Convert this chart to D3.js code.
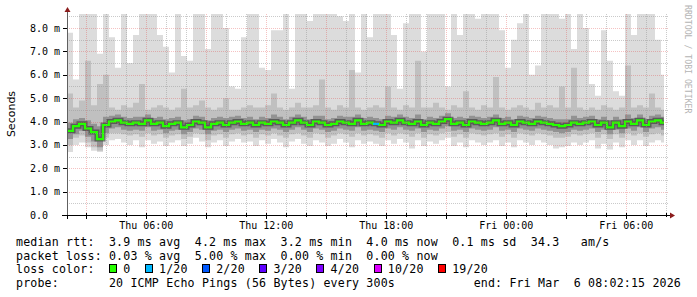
<!DOCTYPE html>
<html>
<head>
<meta charset="utf-8">
<script src="https://cdn.jsdelivr.net/npm/d3@7"></script>
<style>
  body { margin: 0; background: #fff; }
  text { font-family: "DejaVu Sans Mono", monospace; }
</style>
</head>
<body>
<div id="chart"></div>
<script>
// median rtt per 18 minute slot (ms)
var med = [3.6,3.8,3.9,3.7,3.55,3.25,3.85,4.0,4.05,3.95,
  3.9,3.95,3.9,4.05,3.9,3.95,3.8,3.9,3.95,3.75,
  3.85,4.0,3.95,3.75,3.9,3.95,3.85,3.95,4.0,3.9,
  3.95,3.85,3.95,3.9,4.0,3.95,3.85,3.95,4.05,3.95,
  3.85,4.0,3.95,3.85,3.9,4.0,3.95,3.9,4.05,3.9,
  3.95,3.9,3.85,4.0,3.95,4.05,3.95,3.9,4.0,3.85,
  3.95,3.9,4.0,4.1,3.9,3.95,3.85,4.0,3.95,3.9,
  3.95,4.05,3.9,3.95,3.85,4.0,3.95,3.9,4.0,3.95,
  3.9,3.85,3.8,3.85,3.95,3.9,3.95,4.0,3.85,3.95,
  3.75,3.95,3.8,4.0,3.9,4.05,3.85,4.0,4.05,3.95];
// slowest ping
var pmax = [7.8,5.8,9,9,9,6.9,9,7.6,6.3,9,
  6.5,7.7,9,9,9,7.7,7.2,6.1,9,6.8,
  6.6,9,9,7.1,9,9,8.0,5.5,5.4,7.6,
  9,9,6.3,6.2,7.9,7.9,9,5.4,9,9,
  8.3,9,9,9,9,8.5,8.3,9,6.1,9,
  7.6,9,9,9,7.7,5.4,8.2,9,9,7.0,
  9,9,9,5.5,9,7.7,9,9,8.4,9,
  9,9,7.9,6.3,7.5,8.2,9,6.0,6.4,9,
  9,9,8.4,9,7.1,9,8.0,5.6,5.1,7.9,
  6.6,5.3,5.1,9,7.7,9,9,9,7.5,6.0];
// upper decile
var phi = [5.2,4.6,4.9,6.6,4.7,5.6,6.0,4.6,4.5,4.7,
  4.6,4.8,5.6,4.5,4.6,4.7,4.6,4.5,4.6,5.4,
  4.6,4.7,4.9,4.6,4.5,4.6,5.0,4.5,4.5,4.6,
  4.7,4.6,4.6,4.7,5.2,4.6,4.5,4.6,4.8,4.6,
  4.6,4.7,5.8,4.6,4.5,4.7,4.6,6.2,4.6,4.5,
  4.6,4.7,4.6,5.5,4.6,4.5,4.7,4.6,6.6,4.6,
  4.6,4.8,4.6,4.5,4.7,4.6,5.3,4.6,4.5,4.7,
  4.6,5.9,4.6,4.5,4.6,4.7,4.6,4.5,4.8,4.6,
  4.7,4.6,5.5,4.6,6.3,4.6,4.5,4.6,4.5,4.7,
  4.6,4.5,4.6,6.4,4.6,4.7,4.6,5.2,4.6,4.5];
// upper quartile
var pq3 = [3.95,4.1,4.15,4.05,3.9,3.8,4.2,4.25,4.3,4.2,
  4.15,4.2,4.2,4.3,4.15,4.2,4.1,4.15,4.2,4.05,
  4.1,4.25,4.2,4.05,4.15,4.2,4.15,4.2,4.25,4.15,
  4.2,4.1,4.2,4.15,4.3,4.2,4.1,4.2,4.3,4.2,
  4.1,4.25,4.25,4.1,4.15,4.25,4.2,4.2,4.3,4.15,
  4.2,4.15,4.1,4.25,4.2,4.3,4.2,4.15,4.3,4.1,
  4.2,4.15,4.25,4.35,4.15,4.2,4.15,4.25,4.2,4.15,
  4.2,4.3,4.15,4.2,4.1,4.25,4.2,4.15,4.25,4.2,
  4.15,4.1,4.1,4.1,4.25,4.15,4.2,4.25,4.1,4.2,
  4.05,4.2,4.1,4.3,4.15,4.3,4.1,4.25,4.3,4.2];
// lower quartile
var pq1 = [3.25,3.45,3.6,3.35,3.15,2.9,3.5,3.7,3.75,3.65,
  3.6,3.65,3.6,3.75,3.6,3.65,3.5,3.6,3.65,3.45,
  3.55,3.7,3.65,3.45,3.6,3.65,3.55,3.65,3.7,3.6,
  3.65,3.55,3.65,3.6,3.7,3.65,3.55,3.65,3.75,3.65,
  3.55,3.7,3.65,3.55,3.6,3.7,3.65,3.6,3.75,3.6,
  3.65,3.6,3.55,3.7,3.65,3.75,3.65,3.6,3.7,3.55,
  3.65,3.6,3.7,3.8,3.6,3.65,3.55,3.7,3.65,3.6,
  3.65,3.75,3.6,3.65,3.55,3.7,3.65,3.6,3.7,3.65,
  3.6,3.55,3.5,3.55,3.65,3.6,3.65,3.7,3.55,3.65,
  3.45,3.65,3.5,3.7,3.6,3.75,3.55,3.7,3.75,3.65];
// lower decile
var plo = [3.0,3.3,3.4,3.1,2.9,2.75,3.3,3.5,3.5,3.45,
  3.4,3.45,3.35,3.5,3.4,3.45,3.3,3.4,3.45,3.25,
  3.35,3.5,3.45,3.2,3.4,3.45,3.3,3.45,3.5,3.4,
  3.45,3.3,3.45,3.4,3.5,3.4,3.3,3.45,3.5,3.4,
  3.3,3.5,3.45,3.3,3.4,3.5,3.45,3.35,3.5,3.4,
  3.45,3.4,3.3,3.5,3.4,3.5,3.45,3.35,3.5,3.3,
  3.45,3.4,3.5,3.55,3.35,3.45,3.3,3.5,3.45,3.4,
  3.45,3.5,3.35,3.45,3.3,3.5,3.45,3.4,3.5,3.45,
  3.4,3.3,3.3,3.35,3.45,3.4,3.45,3.5,3.3,3.45,
  3.25,3.45,3.3,3.5,3.4,3.5,3.35,3.45,3.5,3.4];
// fastest ping
var pmin = [2.7,3.0,3.1,2.9,2.75,2.7,3.0,3.2,3.25,3.1,
  3.0,3.2,2.9,3.2,3.05,3.15,2.95,3.1,3.2,2.95,
  3.05,3.3,3.15,2.9,3.1,3.2,2.95,3.15,3.25,3.1,
  3.15,2.95,3.2,3.05,3.25,3.1,2.9,3.15,3.25,3.05,
  2.95,3.2,3.1,2.95,3.05,3.25,3.1,2.9,3.2,3.05,
  3.15,3.05,2.95,3.2,3.05,3.25,3.1,2.85,3.2,2.95,
  3.15,3.05,3.2,3.3,2.95,3.1,2.9,3.2,3.1,3.0,
  3.1,3.2,2.95,3.1,2.9,3.2,3.1,3.0,3.2,3.1,
  3.0,2.85,2.9,2.95,3.1,3.0,3.1,3.2,2.85,3.05,
  2.8,3.1,2.9,3.2,3.0,3.2,2.95,3.1,3.2,3.1];
// lost pings out of 20
var loss = [0,0,0,0,0,0,0,0,0,0, 0,0,0,0,0,0,0,0,0,0,
  0,0,0,0,0,0,0,0,0,0, 0,0,0,0,0,0,0,0,0,0,
  0,0,0,0,0,0,0,0,0,0, 0,1,0,0,0,0,0,0,0,0,
  0,0,0,0,0,0,0,0,0,0, 0,0,0,0,0,0,0,0,0,0,
  0,0,0,0,0,0,0,0,0,0, 0,0,0,0,0,0,0,0,0,0];

var lossLabels = ["0","1/20","2/20","3/20","4/20","10/20","19/20"];
var lossCounts = [0,1,2,3,4,10,19];
var lossColors = ["#26ff00","#00b8ff","#0059ff","#5e00ff","#7e00ff","#dd00ff","#ff0000"];

var yTicks = [0,1,2,3,4,5,6,7,8];
var yTickLabels = ["0.0","1.0 m","2.0 m","3.0 m","4.0 m","5.0 m","6.0 m","7.0 m","8.0 m"];

var legendRows = [
  "median rtt:  3.9 ms avg  4.2 ms max  3.2 ms min  4.0 ms now  0.1 ms sd  34.3   am/s",
  "packet loss: 0.03 % avg  5.00 % max  0.00 % min  0.00 % now",
  "loss color:",
  "probe:       20 ICMP Echo Pings (56 Bytes) every 300s"
];
var endLabel = "end: Fri Mar  6 08:02:15 2026";

var W = 697, H = 297;
var svg = d3.select("#chart").append("svg").attr("width", W).attr("height", H);

var start = new Date(Date.UTC(2026, 2, 5, 2, 2, 15));
var end = new Date(Date.UTC(2026, 2, 6, 8, 2, 15));
var step = 18 * 60 * 1000;

var x = d3.scaleUtc().domain([start, end]).range([67, 667]);
var y = d3.scaleLinear().domain([0, 8.6]).range([215, 14]);

// one row per slot, plus a closing row so the last step is drawn
var rows = med.map(function (m, i) {
  return {t: new Date(+start + i * step), med: m, max: pmax[i], hi: phi[i], q3: pq3[i], q1: pq1[i], lo: plo[i], min: pmin[i], loss: loss[i]};
});
rows.push(Object.assign({}, rows[rows.length - 1], {t: end}));

svg.append("clipPath").attr("id", "plot")
  .append("rect").attr("x", 67).attr("y", 14).attr("width", 597).attr("height", 201);

var g = svg.append("g").attr("clip-path", "url(#plot)");

function band(lo, hi) {
  return d3.area().curve(d3.curveStepAfter)
    .x(function (d) { return x(d.t); })
    .y0(function (d) { return y(d[lo]); })
    .y1(function (d) { return y(d[hi]); });
}

g.append("path").attr("d", band("min", "max")(rows)).attr("fill", "#dcdcdc");
g.append("path").attr("d", band("lo", "hi")(rows)).attr("fill", "#c0c0c0");
g.append("path").attr("d", band("q1", "q3")(rows)).attr("fill", "#929292");

var medLine = d3.line().curve(d3.curveStepAfter)
  .x(function (d) { return x(d.t); })
  .y(function (d) { return y(d.med); });

g.append("path").attr("d", medLine(rows)).attr("fill", "none")
  .attr("stroke", "#3c3c3c").attr("stroke-width", 5).attr("stroke-opacity", 0.65);
g.append("path").attr("d", medLine(rows)).attr("fill", "none")
  .attr("stroke", lossColors[0]).attr("stroke-width", 2.2);

// colour slots that lost pings
rows.slice(0, -1).forEach(function (d, i) {
  if (d.loss > 0) {
    var k = d3.bisectRight(lossCounts, d.loss) - 1;
    g.append("line")
      .attr("x1", x(d.t)).attr("x2", x(rows[i + 1].t))
      .attr("y1", y(d.med)).attr("y2", y(d.med))
      .attr("stroke", lossColors[k]).attr("stroke-width", 2.2);
  }
});

// grid on top of smoke
var grid = svg.append("g");
var minorCol = "rgba(150,150,150,0.5)", majorCol = "rgba(225,70,70,0.33)";
d3.range(0.5, 8.6, 1).forEach(function (v) {
  grid.append("line").attr("x1", 67).attr("x2", 668).attr("y1", Math.round(y(v)) + 0.5).attr("y2", Math.round(y(v)) + 0.5)
    .attr("stroke", minorCol).attr("stroke-dasharray", "1,1");
});
yTicks.slice(1).forEach(function (v) {
  grid.append("line").attr("x1", 67).attr("x2", 668).attr("y1", Math.round(y(v)) + 0.5).attr("y2", Math.round(y(v)) + 0.5)
    .attr("stroke", majorCol).attr("stroke-dasharray", "1,1");
});
var hours = d3.utcHour.range(start, end);
hours.forEach(function (h) {
  var major = h.getUTCHours() % 3 === 0;
  grid.append("line").attr("x1", Math.round(x(h)) + 0.5).attr("x2", Math.round(x(h)) + 0.5).attr("y1", 14).attr("y2", 215)
    .attr("stroke", major ? majorCol : minorCol).attr("stroke-dasharray", "1,1");
});

// axes
svg.append("line").attr("x1", 67.5).attr("x2", 67.5).attr("y1", 216).attr("y2", 10).attr("stroke", "#606060");
svg.append("line").attr("x1", 62).attr("x2", 670).attr("y1", 215.5).attr("y2", 215.5).attr("stroke", "#000");
svg.append("path").attr("d", "M64.5,12L70.5,12L67.5,7Z").attr("fill", "#8b1c1c");
svg.append("path").attr("d", "M670,212.5L670,218.5L675,215.5Z").attr("fill", "#8b1c1c");

yTicks.forEach(function (v) {
  var yy = Math.round(y(v)) + 0.5;
  svg.append("line").attr("x1", 63).attr("x2", 67).attr("y1", yy).attr("y2", yy).attr("stroke", "#000");
});
svg.selectAll("text.ylab").data(yTicks).enter().append("text")
  .attr("class", "ylab").attr("x", 30).attr("y", function (v) { return y(v) + 3.5; })
  .attr("font-size", "10px").attr("fill", "#000")
  .text(function (v, i) { return yTickLabels[i]; });

hours.forEach(function (h) {
  var xx = Math.round(x(h)) + 0.5;
  var major = h.getUTCHours() % 3 === 0;
  svg.append("line").attr("x1", xx).attr("x2", xx).attr("y1", 213).attr("y2", major ? 219 : 217).attr("stroke", "#000");
});
svg.append("line").attr("x1", 67.5).attr("x2", 67.5).attr("y1", 215).attr("y2", 219).attr("stroke", "#000");

var fmt = d3.utcFormat("%a %H:%M");
svg.selectAll("text.xlab").data(d3.utcHour.every(6).range(start, end)).enter().append("text")
  .attr("class", "xlab").attr("x", function (d) { return x(d); }).attr("y", 229)
  .attr("text-anchor", "middle").attr("font-size", "10px").attr("fill", "#000")
  .text(fmt);

svg.append("text").attr("transform", "translate(14.5,114) rotate(-90)")
  .attr("text-anchor", "middle").attr("font-size", "11px")
  .style("font-family", "'DejaVu Sans', sans-serif").attr("fill", "#000").text("Seconds");

svg.append("text").attr("transform", "translate(685,5) rotate(90)")
  .attr("font-size", "8.2px").attr("fill", "#b4b4b4").text("RRDTOOL / TOBI OETIKER");

// legend
var cw = 7.15;
var rowY = [246, 259.5, 273, 287];
legendRows.forEach(function (s, i) {
  svg.append("text").attr("x", 16).attr("y", rowY[i]).attr("xml:space", "preserve")
    .style("white-space", "pre").attr("font-size", "11.6px").attr("letter-spacing", "0.17px")
    .attr("fill", "#000").text(s);
});
svg.append("text").attr("x", 681).attr("y", rowY[3]).attr("text-anchor", "end")
  .style("white-space", "pre").attr("font-size", "11.6px").attr("letter-spacing", "0.17px")
  .attr("fill", "#000").text(endLabel);

var col = 13;
lossLabels.forEach(function (lab, i) {
  var sx = Math.round(16 + col * cw) + 0.5;
  svg.append("rect").attr("x", sx).attr("y", 264.5).attr("width", 7).attr("height", 8)
    .attr("fill", lossColors[i]).attr("stroke", "#000");
  svg.append("text").attr("x", 16 + (col + 2) * cw).attr("y", rowY[2])
    .attr("font-size", "11.6px").attr("letter-spacing", "0.17px").attr("fill", "#000").text(lab);
  col += 2 + lab.length + 2;
});
</script>
</body>
</html>
